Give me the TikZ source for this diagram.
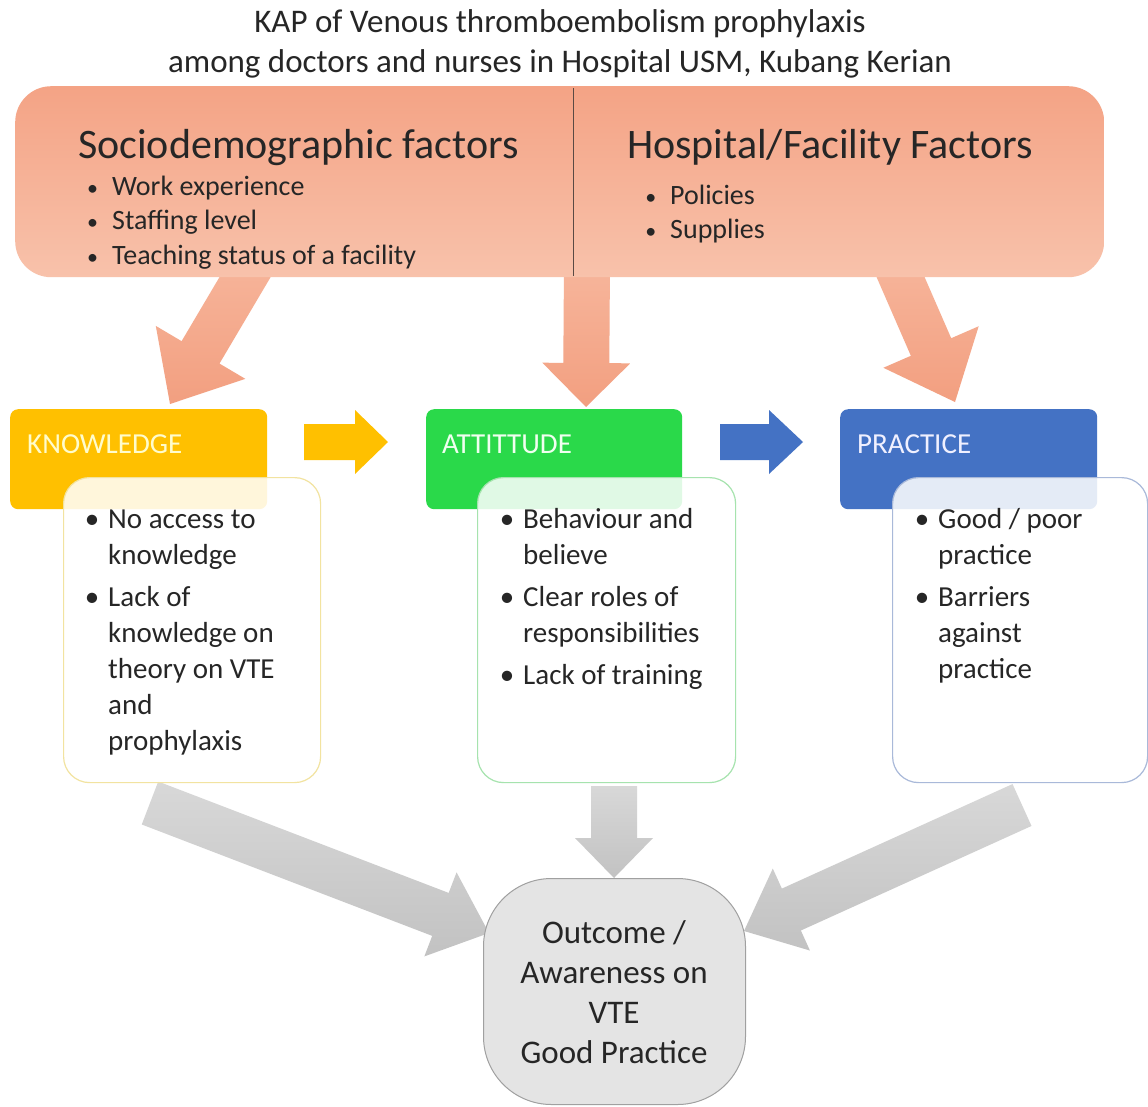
\documentclass[tikz,border=0pt]{standalone}
\usepackage{fontspec}
\setmainfont{Carlito}
\usetikzlibrary{calc}
\definecolor{txtc}{HTML}{262626}
\definecolor{salmonA}{HTML}{F4A385}
\definecolor{salmonB}{HTML}{F8C2AB}
\definecolor{salArTop}{HTML}{F7B69C}
\definecolor{salArBot}{HTML}{F29F80}
\definecolor{goldc}{HTML}{FFC000}
\definecolor{greenc}{HTML}{2AD94A}
\definecolor{bluec}{HTML}{4472C4}
\definecolor{kbord}{HTML}{F2E3A0}
\definecolor{abord}{HTML}{A6E3AE}
\definecolor{pbord}{HTML}{A9B9D9}
\definecolor{grayA}{HTML}{D8D8D8}
\definecolor{grayB}{HTML}{C2C2C2}
\definecolor{outfill}{HTML}{E4E4E4}
\definecolor{outbord}{HTML}{A0A0A0}
\definecolor{divc}{HTML}{5A4A44}
\newcommand\blockarrow[6]{%
  \coordinate (hb) at ($(#2)!#5!(#1)$);
  \path[#6] ($(#1)!#3!90:(#2)$) -- ($(hb)!#3!-90:(#1)$) -- ($(hb)!#4!-90:(#1)$) -- (#2)
    -- ($(hb)!#4!90:(#1)$) -- ($(hb)!#3!90:(#1)$) -- ($(#1)!#3!-90:(#2)$) -- cycle;
}
\newcommand\bulS{\makebox[0pt][r]{\fontsize{22}{26}\selectfont•\hspace{14pt}}}
\newcommand\bulL{\makebox[0pt][r]{•\hspace{9pt}}}
\tikzset{
  tl/.style={inner sep=0pt, anchor=base west, text=txtc},
  tc/.style={inner sep=0pt, anchor=base, text=txtc},
  titlef/.style={font=\fontsize{33}{40}\selectfont},
  headf/.style={font=\fontsize{42}{50}\selectfont},
  itemf/.style={font=\fontsize{28}{34}\selectfont},
  innerf/.style={font=\fontsize{29}{35}\selectfont},
  labf/.style={font=\fontsize{29}{35}\selectfont},
  outf/.style={font=\fontsize{33}{40}\selectfont},
  topbox/.style={shape=rectangle, rounded corners=36pt, top color=salmonA, bottom color=salmonB, draw=none, inner sep=0pt},
  cbox/.style={shape=rectangle, rounded corners=8pt, draw=none, anchor=north west, minimum height=100pt, inner sep=0pt},
  ibox/.style={shape=rectangle, rounded corners=26pt, fill=white, fill opacity=0.86, line width=1.2pt, anchor=north west, minimum width=257pt, minimum height=305pt, inner sep=0pt},
  salarrow/.style={top color=salArTop, bottom color=salArBot},
  grayarrow/.style={top color=grayA, bottom color=grayB},
}
\begin{document}
\begin{tikzpicture}[x=1pt,y=-1pt]
\useasboundingbox[fill=white] (0,0) rectangle (1148,1106);

% title
\node[tc, titlef] (t1) at (560,32) {KAP of Venous thromboembolism prophylaxis};
\node[tc, titlef] (t2) at (560,72) {among doctors and nurses in Hospital USM, Kubang Kerian};

% salmon arrows (behind the top box)
\coordinate (sa1) at (254,262); \coordinate (ta1) at (170,404);
\coordinate (sa2) at (587,262); \coordinate (ta2) at (586,407);
\coordinate (sa3) at (894,262); \coordinate (ta3) at (955,402);
\blockarrow{sa1}{ta1}{22pt}{52pt}{60pt}{salarrow}
\blockarrow{sa2}{ta2}{23pt}{44pt}{44pt}{salarrow}
\blockarrow{sa3}{ta3}{22pt}{52pt}{60pt}{salarrow}

% top box
\node[topbox, anchor=north west, minimum width=1089pt, minimum height=191pt] (top) at (15,86) {};
\draw[divc, line width=1pt] (573,88) -- (573,276);
\node[tl, headf] (h1) at (78,158) {Sociodemographic factors};
\node[tl, headf] (h2) at (627,158) {Hospital/Facility Factors};
\node[tl, itemf] (s1) at (112,195) {\bulS Work experience};
\node[tl, itemf] (s2) at (112,229) {\bulS Staffing level};
\node[tl, itemf] (s3) at (112,264) {\bulS Teaching status of a facility};
\node[tl, itemf] (f1) at (670,204) {\bulS Policies};
\node[tl, itemf] (f2) at (670,238) {\bulS Supplies};

% gray arrows (behind boxes)
\coordinate (sx1) at (150,803); \coordinate (tx1) at (489,933);
\coordinate (sx2) at (614,786); \coordinate (tx2) at (614,878);
\coordinate (sx3) at (1022,805); \coordinate (tx3) at (744,931);
\blockarrow{sx1}{tx1}{23pt}{45pt}{52pt}{grayarrow}
\blockarrow{sx2}{tx2}{23pt}{39pt}{40pt}{grayarrow}
\blockarrow{sx3}{tx3}{23pt}{45pt}{52pt}{grayarrow}

% coloured boxes
\node[cbox, fill=goldc, minimum width=257pt] (kb) at (10,409) {};
\node[cbox, fill=greenc, minimum width=256pt] (ab) at (426,409) {};
\node[cbox, fill=bluec, minimum width=257pt] (pb) at (840,409) {};
\node[tl, labf, text=yellow!20!white] (kl) at (27,453) {KNOWLEDGE};
\node[tl, labf, text=green!6!white] (al) at (442,453) {ATTITTUDE};
\node[tl, labf, text=blue!6!white] (pl) at (857,453) {PRACTICE};

% horizontal arrows
\coordinate (sg) at (304,442); \coordinate (tg) at (388,442);
\coordinate (sb) at (720,442); \coordinate (tb) at (803,442);
\blockarrow{sg}{tg}{18pt}{32pt}{33pt}{fill=goldc}
\blockarrow{sb}{tb}{18pt}{32pt}{34pt}{fill=bluec}

% inner boxes
\node[ibox, draw=kbord] (ki) at (63,477) {};
\node[ibox, draw=abord, minimum width=258pt] (ai) at (477,477) {};
\node[ibox, draw=pbord, minimum width=255pt] (pi) at (892,477) {};

\node[tl, innerf] (k1) at (108,528) {\bulL No access to};
\node[tl, innerf] (k2) at (108,564) {knowledge};
\node[tl, innerf] (k3) at (108,606) {\bulL Lack of};
\node[tl, innerf] (k4) at (108,642) {knowledge on};
\node[tl, innerf] (k5) at (108,678) {theory on VTE};
\node[tl, innerf] (k6) at (108,714) {and};
\node[tl, innerf] (k7) at (108,750) {prophylaxis};

\node[tl, innerf] (a1) at (523,528) {\bulL Behaviour and};
\node[tl, innerf] (a2) at (523,564) {believe};
\node[tl, innerf] (a3) at (523,606) {\bulL Clear roles of};
\node[tl, innerf] (a4) at (523,642) {responsibilities};
\node[tl, innerf] (a5) at (523,684) {\bulL Lack of training};

\node[tl, innerf] (p1) at (938,528) {\bulL Good / poor};
\node[tl, innerf] (p2) at (938,564) {practice};
\node[tl, innerf] (p3) at (938,606) {\bulL Barriers};
\node[tl, innerf] (p4) at (938,642) {against};
\node[tl, innerf] (p5) at (938,678) {practice};

% outcome
\node[shape=rectangle, rounded corners=68pt, fill=outfill, draw=outbord, line width=1pt, anchor=north west, minimum width=262pt, minimum height=226pt, inner sep=0pt] (out) at (483,878) {};
\node[tc, outf] (o1) at (614,943) {Outcome /};
\node[tc, outf] (o2) at (614,983) {Awareness on};
\node[tc, outf] (o3) at (614,1023) {VTE};
\node[tc, outf] (o4) at (614,1063) {Good Practice};
\end{tikzpicture}
\end{document}
